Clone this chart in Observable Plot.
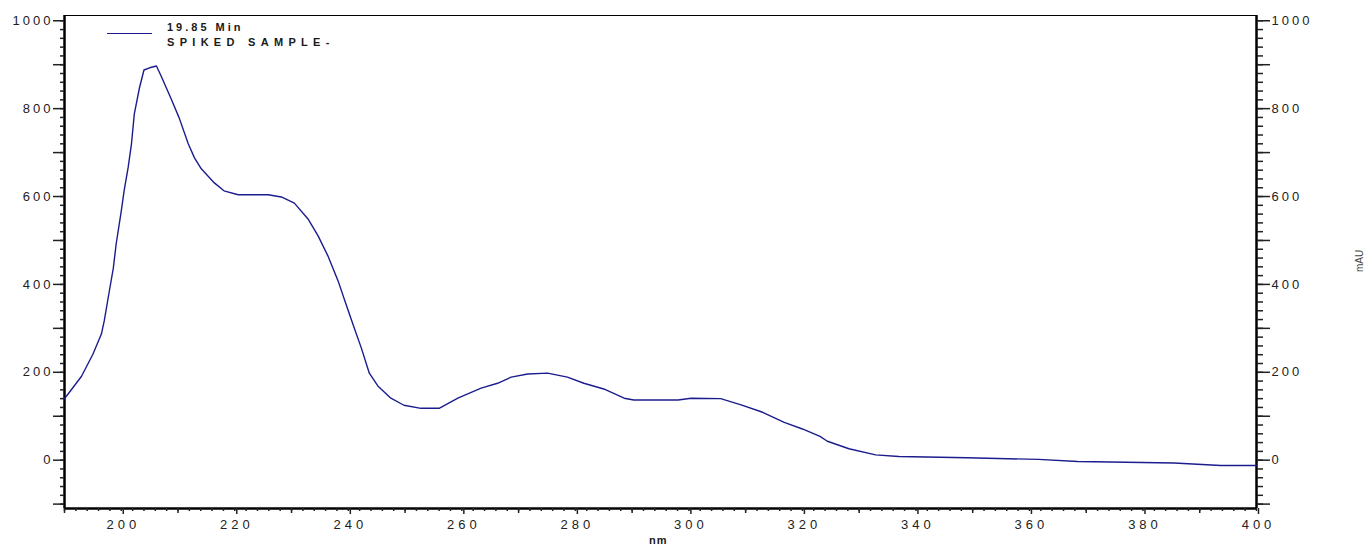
<!DOCTYPE html>
<html>
<head>
<meta charset="utf-8">
<script src="https://cdn.jsdelivr.net/npm/d3@7"></script>
<script src="https://cdn.jsdelivr.net/npm/@observablehq/plot@0.6"></script>
<style>
  html, body { margin: 0; padding: 0; background: #fff; }
  #wrap { position: relative; width: 1372px; height: 548px; font-family: "Liberation Sans", Arial, sans-serif; }
  .ov { position: absolute; font-size: 11px; color: #1a1a1a; white-space: nowrap; line-height: 1; }
</style>
</head>
<body>
<div id="wrap"></div>
<script>
// Wavelength (nm) and absorbance (mAU)
const wavelength = [190, 190.6, 193.0, 195.0, 196.5, 197.0, 197.9, 198.6, 199.1, 200, 200.5, 201.2, 201.8, 202.3, 203.2, 204.0, 205.0, 206.2, 207.0, 208.8, 210.2, 211.8, 212.9, 214.1, 216.4, 218.1, 220.6, 225.9, 228.2, 230.5, 232.9, 234.7, 236.4, 238.2, 239.6, 240.8, 242.3, 243.7, 245.2, 247.5, 249.8, 252.8, 256.0, 259.3, 263.4, 266.3, 268.7, 271.6, 275.1, 278.6, 281.5, 285.0, 288.6, 290.3, 298.1, 300.4, 305.6, 309.2, 313.0, 316.8, 320.0, 323.1, 324.4, 328.2, 332.9, 337.0, 349.0, 361.6, 368.5, 385.5, 393.7, 400];
const absorbance = [140, 150, 191, 241, 287, 317, 385, 437, 492, 567, 613, 665, 720, 788, 847, 888, 893, 897, 875, 822, 779, 720, 688, 663, 631, 613, 604, 604, 599, 585, 549, 510, 465, 408, 355, 310, 255, 198, 169, 141, 125, 118, 118, 141, 164, 175, 189, 196, 198, 189, 175, 162, 141, 137, 137, 141, 140, 126, 109, 86, 71, 54, 43, 26, 12, 8.5, 5.5, 1.7, -3, -6.6, -12, -12];

const yLabelTicks = [0, 200, 400, 600, 800, 1000];
const yMediumTicks = [-100, 100, 300, 500, 700, 900];
const yMinorTicks = d3.range(-100, 1001, 20);
const xLabelTicks = [200, 220, 240, 260, 280, 300, 320, 340, 360, 380, 400];
const xMediumTicks = [190, 210, 230, 250, 270, 290, 310, 330, 350, 370, 390];
const xMinorTicks = d3.range(190, 401, 2);

const legendSeries = ["19.85 Min", "SPIKED SAMPLE-"];
const xTitle = "nm";
const yTitle = "mAU";
const lineColor = "#1c1c8e";

const data = wavelength.map((w, i) => ({w, a: absorbance[i]}));
const noText = () => "";
const fmt = d3.format("d");
const tickStyle = {fontSize: 13, fontFamily: "Liberation Sans, Arial, sans-serif", color: "#222", tickFormat: fmt};

const chart = Plot.plot({
  width: 1372,
  height: 548,
  marginLeft: 64,
  marginRight: 116,
  marginTop: 15,
  marginBottom: 40,
  style: {fontFamily: "Liberation Sans, Arial, sans-serif", fontSize: "13px", color: "#222", background: "#fff"},
  x: {domain: [190, 400]},
  y: {domain: [-110, 1012]},
  marks: [
    Plot.frame({stroke: "#000", strokeWidth: 1}),
    Plot.ruleX([190], {stroke: "#000", strokeWidth: 2.5}),
    Plot.ruleX([400], {stroke: "#000", strokeWidth: 2.5}),
    Plot.ruleY([-110], {stroke: "#000", strokeWidth: 2.5}),
    // left axis
    Plot.axisY(yMinorTicks, {anchor: "left", tickSize: 4, tickFormat: noText, label: null, strokeWidth: 1.5}),
    Plot.axisY(yMediumTicks, {anchor: "left", tickSize: 11, tickFormat: noText, label: null, strokeWidth: 1.5}),
    Plot.axisY(yLabelTicks, {anchor: "left", tickSize: 11, tickPadding: 0, label: null, strokeWidth: 1.5, ...tickStyle}),
    // right axis
    Plot.axisY(yMinorTicks, {anchor: "right", tickSize: 6, tickFormat: noText, label: null, strokeWidth: 1.5}),
    Plot.axisY(yMediumTicks, {anchor: "right", tickSize: 13, tickFormat: noText, label: null, strokeWidth: 1.5}),
    Plot.axisY(yLabelTicks, {anchor: "right", tickSize: 13, tickPadding: 2, label: null, strokeWidth: 1.5, ...tickStyle}),
    // bottom axis
    Plot.axisX(xMinorTicks, {anchor: "bottom", tickSize: 3, tickFormat: noText, label: null, strokeWidth: 1.5}),
    Plot.axisX(xMediumTicks, {anchor: "bottom", tickSize: 5, tickFormat: noText, label: null, strokeWidth: 1.5}),
    Plot.axisX(xLabelTicks, {anchor: "bottom", tickSize: 6, tickPadding: 5, dx: 2, label: null, strokeWidth: 1.5, ...tickStyle}),
    Plot.line(data, {x: "w", y: "a", stroke: lineColor, strokeWidth: 1.4, curve: "linear"})
  ]
});

// widen the tick labels like the instrument's printout
d3.select(chart).selectAll('g[aria-label="y-axis tick label"] text').style("letter-spacing", "3px");
d3.select(chart).selectAll('g[aria-label="x-axis tick label"] text').style("letter-spacing", "4px");

const wrap = document.getElementById("wrap");
wrap.appendChild(chart);

// legend
const sw = document.createElement("div");
sw.style.cssText = `position:absolute;left:107px;top:33px;width:45px;height:0;border-top:1.3px solid ${lineColor};`;
wrap.appendChild(sw);
const spacing = ["3px", "5.3px"];
legendSeries.forEach((t, i) => {
  const d = document.createElement("div");
  d.className = "ov";
  d.textContent = t;
  d.style.left = "167px";
  d.style.top = (22 + i * 15) + "px";
  d.style.fontWeight = "bold";
  d.style.letterSpacing = spacing[i];
  wrap.appendChild(d);
});
// axis titles
const xt = document.createElement("div");
xt.className = "ov";
xt.textContent = xTitle;
xt.style.cssText += "left:649px;top:535px;font-weight:bold;font-size:11px;letter-spacing:1px;";
wrap.appendChild(xt);
const yt = document.createElement("div");
yt.className = "ov";
yt.textContent = yTitle;
yt.style.cssText += "left:1349px;top:256px;transform:rotate(-90deg);font-size:10px;color:#444;";
wrap.appendChild(yt);
</script>
</body>
</html>
